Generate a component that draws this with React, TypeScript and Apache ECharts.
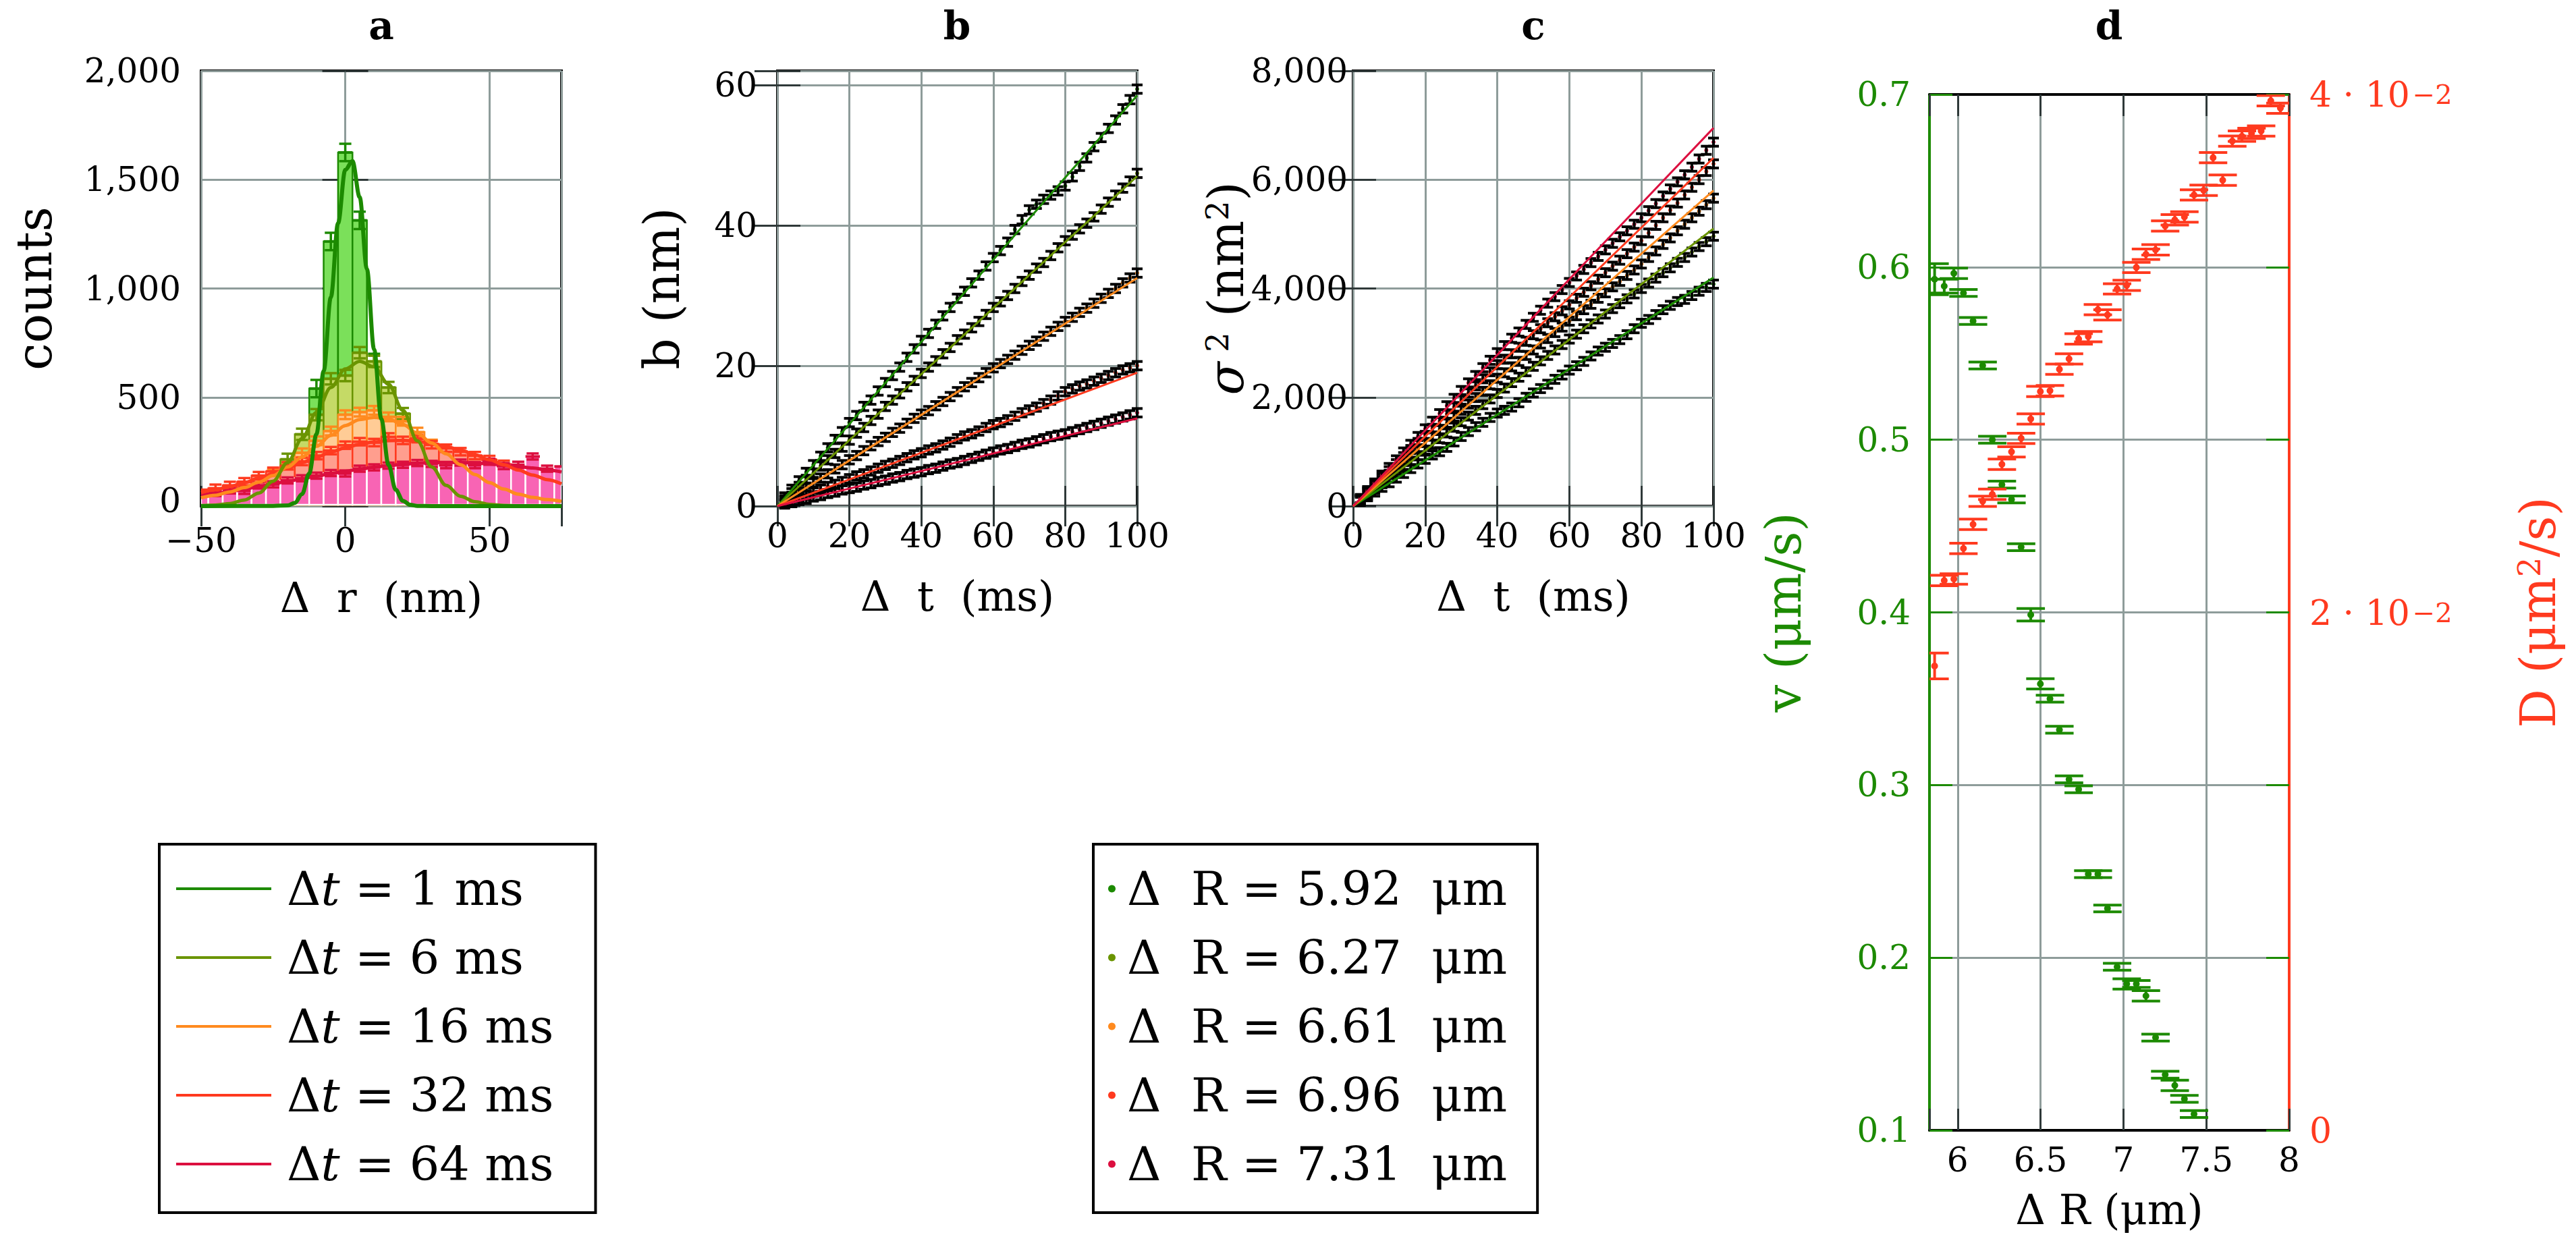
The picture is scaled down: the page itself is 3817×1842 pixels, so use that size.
import React, { useEffect, useRef } from "react";
import * as echarts from "echarts";

// ---------------- Panel a : histograms of Δr (nm) ----------------
const binCenters = [-50, -45, -40, -35, -30, -25, -20, -15, -10, -5, 0, 5, 10, 15, 20, 25, 30, 35, 40, 45, 50, 55, 60, 65, 70, 75];
const hist1ms = [0, 0, 0, 0, 0, 3, 20, 110, 540, 1216, 1625, 1313, 660, 214, 35, 4, 0, 0, 0, 0, 0, 0, 0, 0, 0, 0];
const hist6ms = [3, 8, 15, 30, 62, 125, 215, 330, 420, 585, 600, 705, 665, 545, 425, 300, 190, 105, 55, 25, 12, 6, 3, 1, 0, 0];
const hist16ms = [45, 50, 62, 88, 102, 150, 178, 245, 300, 345, 420, 432, 440, 410, 390, 340, 285, 232, 188, 150, 115, 85, 58, 40, 28, 20];
const hist32ms = [75, 82, 95, 112, 140, 160, 185, 205, 232, 255, 280, 296, 292, 318, 302, 310, 282, 266, 250, 232, 214, 192, 168, 138, 120, 104];
const hist64ms = [52, 60, 72, 70, 95, 100, 118, 128, 140, 152, 150, 172, 178, 186, 190, 198, 194, 188, 200, 188, 204, 184, 190, 228, 172, 182];
const histErr = [40, 26, 20, 17, 14];

const fit1msX = [-50, -25, -20, -17.5, -15, -12.5, -10, -7.5, -5, -2.5, 0, 2.5, 5, 7.5, 10, 12.5, 15, 17.5, 20, 22.5, 25, 30, 75];
const fit1msY = [0, 1, 3, 15, 55, 150, 330, 620, 960, 1300, 1545, 1585, 1420, 1090, 720, 400, 190, 75, 24, 6, 1, 0, 0];
const fit6msY = [2, 5, 12, 28, 60, 115, 200, 310, 430, 545, 630, 665, 640, 560, 440, 300, 180, 95, 45, 20, 8, 3, 1, 0, 0, 0];
const fit16msY = [38, 50, 65, 85, 110, 140, 180, 225, 275, 325, 370, 398, 408, 400, 375, 335, 290, 240, 190, 145, 108, 78, 55, 40, 30, 22];
const fit32msY = [62, 75, 90, 108, 128, 150, 175, 200, 225, 248, 268, 284, 295, 301, 302, 298, 288, 274, 257, 236, 213, 190, 166, 143, 122, 102];
const fit64msY = [50, 58, 68, 78, 90, 102, 114, 126, 138, 150, 160, 170, 179, 186, 192, 197, 200, 201, 200, 198, 194, 189, 182, 175, 166, 157];
const dtLabels = ["Δt = 1 ms", "Δt = 6 ms", "Δt = 16 ms", "Δt = 32 ms", "Δt = 64 ms"];

// ---------------- Panels b and c : vs Δt (ms) ----------------
const tMs = [2, 4, 6, 8, 10, 12, 14, 16, 18, 20, 22, 24, 26, 28, 30, 32, 34, 36, 38, 40, 42, 44, 46, 48, 50, 52, 54, 56, 58, 60, 62, 64, 66, 68, 70, 72, 74, 76, 78, 80, 82, 84, 86, 88, 90, 92, 94, 96, 98, 100];
const bGreen = [1.3, 2.4, 3.6, 4.8, 5.9, 7.1, 8.3, 9.5, 10.6, 11.9, 12.9, 14.2, 15.1, 16.4, 17.6, 18.6, 19.8, 21.2, 22.4, 23.6, 24.6, 25.9, 27.1, 28.3, 29.6, 30.6, 31.8, 32.9, 34.2, 35.4, 36.4, 37.6, 39.4, 40.8, 42.2, 43.0, 43.7, 44.3, 44.9, 45.6, 46.9, 48.4, 49.6, 51.2, 52.5, 53.8, 55.0, 56.6, 57.9, 59.4];
const bOlive = [0.9, 1.9, 2.8, 3.8, 4.7, 5.7, 6.6, 7.5, 8.4, 9.4, 10.4, 11.2, 12.2, 13.1, 14.2, 15.1, 16.0, 17.0, 17.9, 18.9, 19.8, 20.7, 21.7, 22.6, 23.7, 24.5, 25.4, 26.3, 27.3, 28.3, 29.1, 30.0, 31.0, 32.0, 32.9, 33.9, 34.7, 35.7, 36.8, 37.8, 38.6, 39.5, 40.3, 41.2, 42.3, 43.3, 44.3, 45.3, 46.3, 47.4];
const bOrange = [0.7, 1.4, 2.0, 2.7, 3.3, 4.0, 4.6, 5.3, 5.9, 6.6, 7.2, 7.9, 8.6, 9.2, 9.8, 10.5, 11.1, 11.8, 12.5, 13.1, 13.6, 14.3, 14.9, 15.6, 16.3, 17.0, 17.6, 18.3, 19.0, 19.7, 20.3, 20.9, 21.5, 22.2, 22.9, 23.5, 24.2, 24.9, 25.6, 26.3, 26.9, 27.6, 28.2, 28.9, 29.6, 30.3, 31.0, 31.8, 32.5, 33.2];
const bRed = [0.4, 0.8, 1.2, 1.6, 2.0, 2.4, 2.8, 3.1, 3.5, 3.9, 4.3, 4.6, 5.0, 5.4, 5.8, 6.1, 6.5, 6.9, 7.3, 7.6, 8.0, 8.3, 8.7, 9.1, 9.6, 10.0, 10.3, 10.7, 11.2, 11.6, 11.9, 12.3, 12.8, 13.3, 13.7, 14.1, 14.6, 15.1, 15.7, 16.3, 16.7, 17.1, 17.4, 17.8, 18.2, 18.6, 19.0, 19.4, 19.7, 20.0];
const bCrimson = [0.3, 0.5, 0.8, 1.0, 1.3, 1.5, 1.8, 2.0, 2.3, 2.5, 2.7, 3.0, 3.2, 3.5, 3.7, 4.0, 4.2, 4.5, 4.7, 4.9, 5.2, 5.4, 5.7, 6.0, 6.2, 6.5, 6.8, 7.1, 7.4, 7.7, 8.0, 8.2, 8.5, 8.8, 9.0, 9.3, 9.6, 9.9, 10.1, 10.3, 10.6, 10.9, 11.2, 11.5, 11.8, 12.1, 12.4, 12.7, 13.0, 13.3];
const bFitEnd = [58.5, 47.0, 32.5, 19.0, 12.5];
const bErr = 0.6;

const cGreen = [86, 172, 258, 345, 430, 515, 600, 690, 775, 860, 940, 1000, 1080, 1180, 1280, 1370, 1460, 1540, 1630, 1710, 1760, 1820, 1900, 2000, 2080, 2160, 2240, 2330, 2410, 2500, 2580, 2660, 2760, 2850, 2920, 2990, 3060, 3150, 3260, 3360, 3430, 3520, 3610, 3690, 3760, 3800, 3870, 3950, 4020, 4080];
const cOlive = [103, 206, 310, 412, 515, 618, 720, 825, 927, 1030, 1135, 1240, 1345, 1450, 1550, 1655, 1760, 1865, 1970, 2070, 2170, 2270, 2370, 2470, 2570, 2670, 2770, 2870, 2970, 3070, 3160, 3260, 3350, 3440, 3530, 3630, 3720, 3810, 3900, 4000, 4100, 4190, 4290, 4380, 4480, 4570, 4670, 4770, 4860, 4960];
const cOrange = [118, 235, 352, 470, 585, 705, 820, 938, 1055, 1170, 1290, 1405, 1525, 1640, 1760, 1875, 1995, 2110, 2230, 2350, 2450, 2560, 2660, 2770, 2870, 2980, 3080, 3190, 3290, 3400, 3500, 3610, 3710, 3820, 3920, 4030, 4130, 4240, 4340, 4450, 4570, 4690, 4810, 4930, 5060, 5180, 5300, 5420, 5540, 5660];
const cRed = [130, 260, 390, 520, 650, 780, 910, 1040, 1170, 1300, 1430, 1560, 1690, 1820, 1950, 2080, 2210, 2340, 2470, 2600, 2700, 2800, 2920, 3030, 3150, 3260, 3370, 3480, 3590, 3700, 3820, 3930, 4050, 4170, 4290, 4410, 4520, 4640, 4760, 4880, 5020, 5160, 5300, 5440, 5570, 5720, 5860, 6000, 6150, 6290];
const cCrimson = [140, 285, 425, 570, 710, 850, 995, 1135, 1280, 1420, 1560, 1700, 1845, 1980, 2125, 2265, 2400, 2545, 2680, 2820, 2950, 3085, 3200, 3340, 3470, 3600, 3730, 3850, 3980, 4110, 4230, 4350, 4475, 4590, 4710, 4830, 4950, 5060, 5180, 5300, 5430, 5560, 5700, 5830, 5960, 6090, 6230, 6380, 6540, 6690];
const cFitEnd = [4200, 5100, 5800, 6400, 6950];
const cErr = 75;
const rLabels = ["Δ R = 5.92 μm", "Δ R = 6.27 μm", "Δ R = 6.61 μm", "Δ R = 6.96 μm", "Δ R = 7.31 μm"];

// ---------------- Panel d : v and D vs ΔR (μm) ----------------
const dR = [5.861, 5.919, 5.977, 6.035, 6.093, 6.151, 6.209, 6.267, 6.325, 6.383, 6.441, 6.499, 6.557, 6.614, 6.672, 6.730, 6.788, 6.846, 6.904, 6.962, 7.020, 7.078, 7.136, 7.194, 7.252, 7.310, 7.368, 7.426, 7.484, 7.541, 7.599, 7.657, 7.715, 7.773, 7.831, 7.889, 7.947];
const vVals = [0.593, 0.589, 0.5964, 0.585, 0.5688, 0.543, 0.5, 0.474, 0.4654, 0.4378, 0.3986, 0.3586, 0.35, 0.332, 0.3033, 0.2975, 0.2484, 0.2484, 0.2285, 0.1947, 0.1848, 0.1848, 0.1779, 0.1537, 0.1322, 0.126, 0.1182, 0.1094];
const vErr = [0.009, 0.004, 0.003, 0.002, 0.002, 0.002, 0.002, 0.002, 0.002, 0.002, 0.0036, 0.003, 0.002, 0.002, 0.002, 0.002, 0.002, 0.002, 0.002, 0.002, 0.003, 0.002, 0.003, 0.002, 0.002, 0.003, 0.002, 0.002];
const dVals = [0.01793, 0.02123, 0.02129, 0.02247, 0.0234, 0.02429, 0.02456, 0.02572, 0.0262, 0.02672, 0.02747, 0.02853, 0.02856, 0.02939, 0.02979, 0.03056, 0.03065, 0.03169, 0.03149, 0.03249, 0.03263, 0.03332, 0.03383, 0.034, 0.03492, 0.03516, 0.03527, 0.03612, 0.0363, 0.03756, 0.03669, 0.0382, 0.03839, 0.0385, 0.03859, 0.03976, 0.03947];
const dErr = [0.0005, 0.0002, 0.0002, 0.0002, 0.0002, 0.0002, 0.0002, 0.0002, 0.0002, 0.0002, 0.0002, 0.0002, 0.0002, 0.0002, 0.0002, 0.0002, 0.0002, 0.0002, 0.0002, 0.0002, 0.0002, 0.0002, 0.0002, 0.0002, 0.0002, 0.0002, 0.0002, 0.0002, 0.0002, 0.0002, 0.0002, 0.0002, 0.0002, 0.0002, 0.0002, 0.0002, 0.0002];

// ---------------- styles ----------------
const FONT = "DejaVu Serif";
const GRID_COLOR = "#8E9C9A";
const TICK_COLOR = "#2F3939";
const COLORS = ["#1C8A00", "#6A9400", "#FF8A1E", "#FF3A1F", "#DC0F3F"];
const FILLS = ["#7BE05A", "#C5DA66", "#FFCC96", "#FF9E8E", "#F864B4"];
const D_GREEN = "#1C8A00";
const D_RED = "#FF3A1F";
const TICK_FS = 50;
const NAME_FS = 62;
const ROT_FS = 72;

const minus = (v: number) => (v < 0 ? "−" + Math.abs(v) : String(v));
const thousands = (v: number) =>
  v >= 1000 ? `${Math.floor(v / 1000)},${String(v % 1000).padStart(3, "0")}` : String(v);

function histRender(fill: string, edge: string, white: boolean) {
  return (params: any, api: any) => {
    const x = api.value(0), v = api.value(1), e = api.value(2);
    if (!(v > 0)) return null;
    const half = (binCenters[1] - binCenters[0]) / 2;
    const cs = params.coordSys;
    const pL = api.coord([x - half, 0]);
    const pR = api.coord([x + half, v]);
    const x0 = Math.max(pL[0], cs.x);
    const x1 = Math.min(pR[0], cs.x + cs.width);
    if (x1 <= x0) return null;
    const yTop = pR[1];
    const yBot = pL[1] - 2;
    const children: any[] = [
      {
        type: "rect",
        shape: { x: x0, y: yTop, width: x1 - x0, height: yBot - yTop },
        style: { fill, stroke: white ? "#ffffff" : edge, lineWidth: 2.5 },
      },
      { type: "line", shape: { x1: x0, y1: yTop, x2: x1, y2: yTop }, style: { stroke: edge, lineWidth: 4 } },
    ];
    const c = api.coord([x, v]);
    if (c[0] > cs.x + 2 && c[0] < cs.x + cs.width - 2) {
      const t = api.coord([x, v + e])[1];
      const b = api.coord([x, v - e])[1];
      children.push({ type: "line", shape: { x1: c[0], y1: t, x2: c[0], y2: b }, style: { stroke: edge, lineWidth: 3.5 } });
      children.push({ type: "line", shape: { x1: c[0] - 9, y1: t, x2: c[0] + 9, y2: t }, style: { stroke: edge, lineWidth: 3.5 } });
      children.push({ type: "line", shape: { x1: c[0] - 9, y1: b, x2: c[0] + 9, y2: b }, style: { stroke: edge, lineWidth: 3.5 } });
    }
    return { type: "group", children };
  };
}

function errRender(dotColor: string, barColor: string, capHalf: number, lw: number, r: number, dotOnTop: boolean) {
  return (params: any, api: any) => {
    const x = api.value(0), v = api.value(1), e = api.value(2);
    const c = api.coord([x, v]);
    const t = api.coord([x, v + e])[1];
    const b = api.coord([x, v - e])[1];
    const dot = { type: "circle", shape: { cx: c[0], cy: c[1], r }, style: { fill: dotColor } };
    const lines = [
      { type: "line", shape: { x1: c[0], y1: t, x2: c[0], y2: b }, style: { stroke: barColor, lineWidth: lw } },
      { type: "line", shape: { x1: c[0] - capHalf, y1: t, x2: c[0] + capHalf, y2: t }, style: { stroke: barColor, lineWidth: lw } },
      { type: "line", shape: { x1: c[0] - capHalf, y1: b, x2: c[0] + capHalf, y2: b }, style: { stroke: barColor, lineWidth: lw } },
    ];
    return { type: "group", children: dotOnTop ? [...lines, dot] : [dot, ...lines] };
  };
}

const tickStyle = (color: string, len = 30) => ({ show: true, inside: true, length: len, lineStyle: { color, width: 3 } });
const labelStyle = (extra: any = {}) => ({ fontFamily: FONT, fontSize: TICK_FS, lineHeight: 40, color: "#000", ...extra });
const nameStyle = (extra: any = {}) => ({ fontFamily: FONT, fontSize: NAME_FS, color: "#000", ...extra });
const rotName = (extra: any = {}) => ({ fontFamily: FONT, fontSize: ROT_FS, color: "#000", ...extra });

function buildOption() {
  const grids = [
    { left: 298, top: 105, width: 534, height: 645, show: true, borderColor: "#000", borderWidth: 4 },
    { left: 1152, top: 105, width: 533, height: 645, show: true, borderColor: "#000", borderWidth: 4 },
    { left: 2005, top: 105, width: 534, height: 645, show: true, borderColor: "#000", borderWidth: 4 },
    { left: 2859, top: 140, width: 533, height: 1535, show: false },
  ];

  const xAxis: any[] = [
    // a
    {
      type: "value", gridIndex: 0, min: -50, max: 75, interval: 50, position: "bottom",
      axisLine: { show: false }, axisTick: tickStyle(TICK_COLOR),
      splitLine: { show: true, lineStyle: { color: GRID_COLOR, width: 3 } },
      axisLabel: { ...labelStyle(), margin: 31, formatter: (v: number) => (v % 50 === 0 ? minus(v) : "") },
      name: "Δ  r  (nm)", nameLocation: "middle", nameGap: 104, nameMoveOverlap: false, nameTextStyle: nameStyle(),
    },
    { type: "value", gridIndex: 0, min: -50, max: 75, interval: 50, position: "top", axisLine: { show: false }, axisTick: tickStyle(TICK_COLOR), axisLabel: { show: false }, splitLine: { show: false } },
    // b
    {
      type: "value", gridIndex: 1, min: 0, max: 100, interval: 20, position: "bottom",
      axisLine: { show: false }, axisTick: tickStyle(TICK_COLOR),
      splitLine: { show: true, lineStyle: { color: GRID_COLOR, width: 3 } },
      axisLabel: { ...labelStyle(), margin: 24 },
      name: "Δ  t  (ms)", nameLocation: "middle", nameGap: 102, nameMoveOverlap: false, nameTextStyle: nameStyle(),
    },
    { type: "value", gridIndex: 1, min: 0, max: 100, interval: 20, position: "top", axisLine: { show: false }, axisTick: tickStyle(TICK_COLOR), axisLabel: { show: false }, splitLine: { show: false } },
    // c
    {
      type: "value", gridIndex: 2, min: 0, max: 100, interval: 20, position: "bottom",
      axisLine: { show: false }, axisTick: tickStyle(TICK_COLOR),
      splitLine: { show: true, lineStyle: { color: GRID_COLOR, width: 3 } },
      axisLabel: { ...labelStyle(), margin: 24 },
      name: "Δ  t  (ms)", nameLocation: "middle", nameGap: 102, nameMoveOverlap: false, nameTextStyle: nameStyle(),
    },
    { type: "value", gridIndex: 2, min: 0, max: 100, interval: 20, position: "top", axisLine: { show: false }, axisTick: tickStyle(TICK_COLOR), axisLabel: { show: false }, splitLine: { show: false } },
    // d
    {
      type: "value", gridIndex: 3, min: 5.83, max: 8, splitNumber: 4, position: "bottom",
      axisLine: { show: true, lineStyle: { color: "#000", width: 4 } }, axisTick: tickStyle(TICK_COLOR, 32),
      splitLine: { show: true, lineStyle: { color: GRID_COLOR, width: 3 } },
      axisLabel: {
        ...labelStyle(), margin: 24,
        formatter: (v: number) => (Math.abs(v * 2 - Math.round(v * 2)) < 1e-6 ? String(Math.round(v * 10) / 10) : ""),
      },
      name: "Δ R (μm)", nameLocation: "middle", nameGap: 86, nameMoveOverlap: false, nameTextStyle: nameStyle(),
    },
    {
      type: "value", gridIndex: 3, min: 5.83, max: 8, splitNumber: 4, position: "top",
      axisLine: { show: true, lineStyle: { color: "#000", width: 4 } }, axisTick: tickStyle(TICK_COLOR, 32),
      axisLabel: { show: false }, splitLine: { show: false },
    },
  ];

  const yAxis: any[] = [
    // a
    {
      type: "value", gridIndex: 0, min: 0, max: 2000, interval: 500, position: "left",
      axisLine: { show: false }, axisTick: tickStyle(TICK_COLOR, 34),
      splitLine: { show: true, lineStyle: { color: GRID_COLOR, width: 3 } },
      axisLabel: {
        ...labelStyle(), margin: 30,
        formatter: (v: number) => (v === 0 ? "{z|0}" : thousands(v)),
        rich: { z: { fontFamily: FONT, fontSize: TICK_FS, color: "#000", padding: [0, 0, 16, 0] } },
      },
      name: "counts", nameLocation: "middle", nameRotate: 90, nameGap: 211, nameMoveOverlap: false, nameTextStyle: rotName(),
    },
    { type: "value", gridIndex: 0, min: 0, max: 2000, interval: 500, position: "right", axisLine: { show: false }, axisTick: tickStyle(TICK_COLOR, 34), axisLabel: { show: false }, splitLine: { show: false } },
    // b
    {
      type: "value", gridIndex: 1, min: 0, max: 62, interval: 20, position: "left",
      axisLine: { show: false }, axisTick: tickStyle(TICK_COLOR, 34),
      splitLine: { show: true, lineStyle: { color: GRID_COLOR, width: 3 } },
      axisLabel: { ...labelStyle(), margin: 30, formatter: (v: number) => (v % 20 === 0 ? String(v) : "") },
      name: "b (nm)", nameLocation: "middle", nameRotate: 90, nameGap: 135, nameMoveOverlap: false, nameTextStyle: rotName(),
    },
    { type: "value", gridIndex: 1, min: 0, max: 62, interval: 20, position: "right", axisLine: { show: false }, axisTick: tickStyle(TICK_COLOR, 34), axisLabel: { show: false }, splitLine: { show: false } },
    // c
    {
      type: "value", gridIndex: 2, min: 0, max: 8000, interval: 2000, position: "left",
      axisLine: { show: false }, axisTick: tickStyle(TICK_COLOR, 34),
      splitLine: { show: true, lineStyle: { color: GRID_COLOR, width: 3 } },
      axisLabel: { ...labelStyle(), margin: 8, formatter: (v: number) => thousands(v) },
      name: "{i|σ}{s| 2}{n| (nm}{s|2}{n|)}", nameLocation: "middle", nameRotate: 90, nameGap: 152, nameMoveOverlap: false,
      nameTextStyle: rotName({
        rich: {
          i: { fontFamily: FONT, fontSize: ROT_FS, fontStyle: "italic", color: "#000" },
          n: { fontFamily: FONT, fontSize: ROT_FS, color: "#000" },
          s: { fontFamily: FONT, fontSize: 46, color: "#000", verticalAlign: "top" },
        },
      }),
    },
    { type: "value", gridIndex: 2, min: 0, max: 8000, interval: 2000, position: "right", axisLine: { show: false }, axisTick: tickStyle(TICK_COLOR, 34), axisLabel: { show: false }, splitLine: { show: false } },
    // d left: v
    {
      type: "value", gridIndex: 3, min: 0.1, max: 0.7, interval: 0.1, position: "left",
      axisLine: { show: true, lineStyle: { color: D_GREEN, width: 4 } }, axisTick: tickStyle(D_GREEN, 34),
      splitLine: { show: true, lineStyle: { color: GRID_COLOR, width: 3 } },
      axisLabel: { ...labelStyle({ color: D_GREEN }), margin: 28, formatter: (v: number) => v.toFixed(1) },
      name: "v (μm/s)", nameLocation: "middle", nameRotate: 90, nameGap: 180, nameMoveOverlap: false, nameTextStyle: rotName({ color: D_GREEN }),
    },
    // d right: D
    {
      type: "value", gridIndex: 3, min: 0, max: 0.04, interval: 0.02, position: "right",
      axisLine: { show: true, lineStyle: { color: D_RED, width: 4 } }, axisTick: tickStyle(D_RED, 34),
      splitLine: { show: false },
      axisLabel: {
        ...labelStyle({ color: D_RED }), margin: 30,
        formatter: (v: number) => (v === 0 ? "{n|0}" : `{n|${Math.round(v * 100)} · 10}{s|−2}`),
        rich: {
          n: { fontFamily: FONT, fontSize: 52, color: D_RED },
          s: { fontFamily: FONT, fontSize: 40, color: D_RED, verticalAlign: "top", padding: [0, 0, 0, 4] },
        },
      },
      name: "{n|D (μm}{s|2}{n|/s)}", nameLocation: "middle", nameRotate: 90, nameGap: 333, nameMoveOverlap: false,
      nameTextStyle: rotName({
        color: D_RED,
        rich: {
          n: { fontFamily: FONT, fontSize: ROT_FS, color: D_RED },
          s: { fontFamily: FONT, fontSize: 46, color: D_RED, verticalAlign: "top" },
        },
      }),
    },
    // d right mirror of v ticks
    { type: "value", gridIndex: 3, min: 0.1, max: 0.7, interval: 0.1, position: "right", axisLine: { show: false }, axisTick: tickStyle(D_GREEN, 34), axisLabel: { show: false }, splitLine: { show: false } },
  ];

  const series: any[] = [];
  const hists = [hist1ms, hist6ms, hist16ms, hist32ms, hist64ms];
  hists.forEach((h, k) => {
    series.push({
      type: "custom", name: "hist" + k, xAxisIndex: 0, yAxisIndex: 0, clip: true, silent: true, z: 2 + k * 0.01,
      renderItem: histRender(FILLS[k], COLORS[k], k === 4),
      encode: { x: 0, y: 1 },
      data: binCenters.map((x, i) => [x, h[i], histErr[k]]),
    });
  });
  const fitsA = [
    { x: fit1msX, y: fit1msY },
    { x: binCenters, y: fit6msY },
    { x: binCenters, y: fit16msY },
    { x: binCenters, y: fit32msY },
    { x: binCenters, y: fit64msY },
  ];
  [4, 3, 2, 1, 0].forEach((k) => {
    series.push({
      type: "line", name: dtLabels[k], xAxisIndex: 0, yAxisIndex: 0, z: 4,
      color: COLORS[k], showSymbol: false, smooth: 0.35, smoothMonotone: "x", silent: true,
      lineStyle: { width: k === 0 ? 6 : 5, color: COLORS[k] },
      data: fitsA[k].x.map((x, i) => [x, fitsA[k].y[i]]),
    });
  });

  const bSets = [bGreen, bOlive, bOrange, bRed, bCrimson];
  const cSets = [cGreen, cOlive, cOrange, cRed, cCrimson];
  bSets.forEach((arr, k) => {
    series.push({
      type: "custom", name: rLabels[k], xAxisIndex: 2, yAxisIndex: 2, silent: true, z: 3,
      itemStyle: { color: COLORS[k] }, encode: { x: 0, y: 1 },
      renderItem: errRender(COLORS[k], "#000", 8, 4, 3, false),
      data: tMs.map((t, i) => [t, arr[i], bErr]),
    });
  });
  bFitEnd.forEach((end, k) => {
    series.push({
      type: "line", name: "bfit" + k, xAxisIndex: 2, yAxisIndex: 2, z: 5, silent: true,
      showSymbol: false, color: COLORS[k], lineStyle: { width: 3, color: COLORS[k] },
      data: [[0, 0], [100, end]],
    });
  });
  cSets.forEach((arr, k) => {
    series.push({
      type: "custom", name: rLabels[k], xAxisIndex: 4, yAxisIndex: 4, silent: true, z: 3,
      itemStyle: { color: COLORS[k] }, encode: { x: 0, y: 1 },
      renderItem: errRender(COLORS[k], "#000", 8, 4, 3, false),
      data: tMs.map((t, i) => [t, arr[i], cErr]),
    });
  });
  cFitEnd.forEach((end, k) => {
    series.push({
      type: "line", name: "cfit" + k, xAxisIndex: 4, yAxisIndex: 4, z: 5, silent: true,
      showSymbol: false, color: COLORS[k], lineStyle: { width: 3, color: COLORS[k] },
      data: [[0, 0], [100, end]],
    });
  });

  series.push({
    type: "custom", name: "v", xAxisIndex: 6, yAxisIndex: 6, silent: true, z: 3, clip: true,
    itemStyle: { color: D_GREEN }, encode: { x: 0, y: 1 },
    renderItem: errRender(D_GREEN, D_GREEN, 21, 4, 5, true),
    data: vVals.map((v, i) => [dR[i], v, vErr[i]]),
  });
  series.push({
    type: "custom", name: "D", xAxisIndex: 6, yAxisIndex: 7, silent: true, z: 3, clip: true,
    itemStyle: { color: D_RED }, encode: { x: 0, y: 1 },
    renderItem: errRender(D_RED, D_RED, 21, 4, 5, true),
    data: dVals.map((v, i) => [dR[i], v, dErr[i]]),
  });

  const LFS = 70;
  const legendText = { fontFamily: FONT, fontSize: LFS, color: "#000", lineHeight: 78 };
  const legend = [
    {
      data: dtLabels.map((n) => ({ name: n, icon: "rect" })),
      orient: "vertical", left: 236, top: 1251, selectedMode: false,
      itemWidth: 141, itemHeight: 4, itemGap: 24,
      padding: [27, 62, 33, 25], borderColor: "#000", borderWidth: 4,
      textStyle: {
        ...legendText, padding: [0, 0, 0, 18],
        rich: {
          n: { fontFamily: FONT, fontSize: LFS, color: "#000" },
          i: { fontFamily: FONT, fontSize: LFS, fontStyle: "italic", color: "#000" },
        },
      },
      formatter: (name: string) => `{n|Δ}{i|t}{n|${name.slice(2)}}`,
    },
    {
      data: rLabels.map((n) => ({ name: n, icon: "circle" })),
      orient: "vertical", left: 1620, top: 1251, selectedMode: false,
      itemWidth: 11, itemHeight: 11, itemGap: 24,
      padding: [27, 45, 33, 22], borderColor: "#000", borderWidth: 4,
      textStyle: { ...legendText, padding: [0, 0, 0, 12] },
      formatter: (name: string) => name.replace("Δ R", "Δ  R").replace(" μm", "  μm"),
    },
  ];

  const titleText = (t: string, x: number) => ({
    type: "text", x, y: 38,
    style: { text: t, font: `bold 58px "${FONT}"`, fill: "#000", textAlign: "center", textVerticalAlign: "middle", align: "center", verticalAlign: "middle" },
  });

  return {
    animation: false,
    backgroundColor: "#ffffff",
    textStyle: { fontFamily: FONT },
    grid: grids,
    xAxis,
    yAxis,
    legend,
    series,
    graphic: [titleText("a", 565), titleText("b", 1418), titleText("c", 2272), titleText("d", 3125)],
  };
}

export default function App() {
  const ref = useRef<HTMLDivElement>(null);
  useEffect(() => {
    document.body.style.margin = "0";
    document.body.style.overflow = "hidden";
    const chart = echarts.init(ref.current as HTMLDivElement, null, { renderer: "svg" });
    chart.setOption(buildOption() as any);
    return () => chart.dispose();
  }, []);
  return <div ref={ref} style={{ width: 3817, height: 1842 }} />;
}
